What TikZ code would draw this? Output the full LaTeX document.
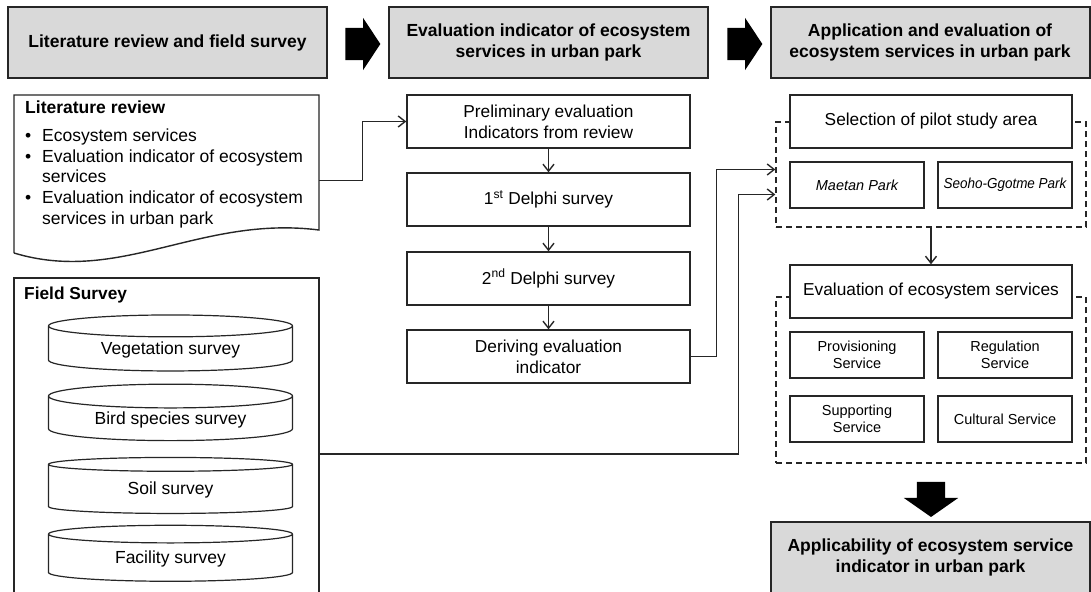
\documentclass[tikz,border=0pt]{standalone}
\usepackage{fontspec}
\setmainfont{Liberation Sans}
\usetikzlibrary{shapes.geometric,shapes.arrows,arrows.meta}
\definecolor{headgray}{RGB}{217,217,217}
\definecolor{inkline}{RGB}{38,38,38}
\newcommand{\bodysize}{\fontsize{17.3}{21}\selectfont}
\newcommand{\smallsize}{\fontsize{14.5}{17}\selectfont}
\tikzset{
    header-box/.style = {draw=inkline, fill=headgray, line width=2pt, rectangle, minimum width=319pt, minimum height=71pt, align=center, font=\fontsize{17.5}{21}\selectfont\bfseries},
    step-box/.style = {draw=inkline, fill=white, line width=1.4pt, rectangle, minimum width=283pt, minimum height=53pt, align=center, font=\bodysize},
    small-box/.style = {step-box, minimum width=134pt, minimum height=46pt, font=\smallsize},
    group-box/.style = {draw=inkline, line width=1.4pt, dash pattern=on 6pt off 4pt, rectangle, minimum width=310pt},
    survey-drum/.style = {draw=inkline, fill=white, line width=1.2pt, cylinder, shape border rotate=90, aspect=0.15, minimum width=244pt, minimum height=56pt, font=\fontsize{17.5}{21}\selectfont},
    block-arrow/.style = {single arrow, fill=black, draw=none, inner xsep=0pt, inner ysep=16pt, minimum height=35pt, single arrow head extend=10pt, single arrow tip angle=113},
    flow-line/.style = {draw=inkline, line width=1.4pt, -{Straight Barb[length=7pt,width=11pt]}},
}

\begin{document}
\begin{tikzpicture}[x=1pt, y=-1pt]
\clip (0,0) rectangle (1091,591);
\fill[white] (0,0) rectangle (1091,591);

\node[header-box] (stage1) at (167.5,42.5) {Literature review and field survey};
\node[header-box] (stage2) at (548.5,42.5) {Evaluation indicator of ecosystem\\services in urban park};
\node[header-box] (stage3) at (930,42.5) {Application and evaluation of\\ecosystem services in urban park};
\node[block-arrow] (go1) at (357.5,44) {};
\node[block-arrow] (go2) at (739.5,44) {};

\draw[draw=inkline, line width=1.4pt] (14,253) -- (14,95) -- (319,95) -- (319,230) .. controls (200,215) and (120,285) .. (14,253);
\node[inner sep=0pt, minimum width=305pt, minimum height=135pt] (litrev) at (166.5,162.5) {};
\node[anchor=north west, inner sep=0pt, align=left, font=\fontsize{17.5}{20.7}\selectfont] (litrev-text) at (25,101) {\textbf{Literature review}\\[7pt]
    \makebox[17pt][l]{\textbullet}Ecosystem services\\
    \makebox[17pt][l]{\textbullet}Evaluation indicator of ecosystem\\
    \makebox[17pt][l]{}services\\
    \makebox[17pt][l]{\textbullet}Evaluation indicator of ecosystem\\
    \makebox[17pt][l]{}services in urban park};

\node[draw=inkline, line width=1.4pt, minimum width=305pt, minimum height=352pt] (fieldbox) at (166.5,454) {};
\node[anchor=north west, inner sep=0pt, font=\bodysize\bfseries] (field-title) at (24,287) {Field Survey};
\node[survey-drum] (veg) at (170.5,350) {Vegetation survey};
\node[survey-drum] (bird) at (170.5,420) {Bird species survey};
\node[survey-drum] (soil) at (170.5,490) {Soil survey};
\node[survey-drum] (facility) at (170.5,559) {Facility survey};

\node[step-box] (prelim) at (548.5,121.5) {Preliminary evaluation\\Indicators from review};
\node[step-box] (delphi1) at (548.5,199.5) {1\textsuperscript{st} Delphi survey};
\node[step-box] (delphi2) at (548.5,278.5) {2\textsuperscript{nd} Delphi survey};
\node[step-box] (deriving) at (548.5,356.5) {Deriving evaluation\\indicator};

\node[group-box, minimum height=105pt] (pilotgrp) at (931,174.5) {};
\node[step-box, minimum width=282pt] (select) at (931,121.5) {Selection of pilot study area};
\node[small-box] (maetan) at (857,185) {\itshape Maetan Park};
\node[small-box] (seoho) at (1005,185) {\itshape\scalebox{0.93}[1]{Seoho-Ggotme Park}};

\node[group-box, minimum height=166pt] (evalgrp) at (931,380) {};
\node[step-box, minimum width=282pt] (evaltitle) at (931,291.5) {Evaluation of ecosystem services};
\node[small-box] (prov) at (857,355) {Provisioning\\Service};
\node[small-box] (reg) at (1005,355) {Regulation\\Service};
\node[small-box] (supp) at (857,419) {Supporting\\Service};
\node[small-box] (cult) at (1005,419) {Cultural Service};

\node[block-arrow, inner xsep=14pt, inner ysep=0pt, single arrow head extend=13pt, single arrow tip angle=110, shape border rotate=270] (go3) at (931,494.5) {};
\node[header-box] (result) at (930.5,557) {Applicability of ecosystem service\\indicator in urban park};

\draw[flow-line] ([yshift=-18pt]litrev.east) -- ++(43,0) |- (prelim.west);
\draw[flow-line] (prelim) -- (delphi1);
\draw[flow-line] (delphi1) -- (delphi2);
\draw[flow-line] (delphi2) -- (deriving);
\draw[flow-line] (deriving.east) -- ++(26,0) |- ([yshift=5pt]pilotgrp.west);
\draw[flow-line] (fieldbox.east) -- ++(419,0) |- ([yshift=-20pt]pilotgrp.west);
\draw[flow-line] (pilotgrp.south) -- (evaltitle.north);
\end{tikzpicture}
\end{document}
